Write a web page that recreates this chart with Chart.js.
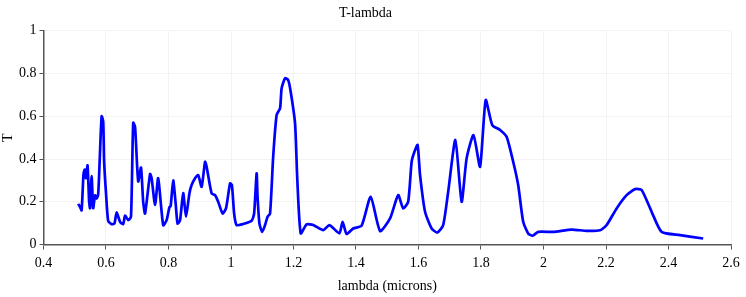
<!DOCTYPE html>
<html>
<head>
<meta charset="utf-8">
<script src="https://cdn.jsdelivr.net/npm/chart.js@4/dist/chart.umd.min.js"></script>
<style>
html,body{margin:0;padding:0;background:#fff;}
#wrap{width:746px;height:297px;}
</style>
</head>
<body>
<div id="wrap"><canvas id="c" width="746" height="297"></canvas></div>
<script>
const lambda = [0.511,0.517,0.522,0.528,0.532,0.536,0.541,0.546,0.549,0.554,0.559,0.565,0.570,0.575,0.580,0.586,0.591,0.594,0.600,0.607,0.618,0.627,0.634,0.645,0.655,0.661,0.671,0.680,0.687,0.693,0.703,0.712,0.719,0.725,0.741,0.746,0.757,0.767,0.783,0.794,0.803,0.807,0.815,0.823,0.829,0.837,0.847,0.856,0.867,0.874,0.885,0.895,0.906,0.917,0.922,0.938,0.949,0.959,0.973,0.984,0.997,1.003,1.010,1.018,1.039,1.066,1.074,1.082,1.085,1.091,1.100,1.109,1.117,1.125,1.135,1.146,1.157,1.162,1.173,1.183,1.191,1.205,1.212,1.223,1.242,1.263,1.295,1.315,1.347,1.357,1.370,1.391,1.418,1.447,1.477,1.509,1.535,1.551,1.567,1.578,1.587,1.597,1.605,1.621,1.642,1.660,1.679,1.695,1.718,1.738,1.754,1.776,1.797,1.815,1.836,1.861,1.882,1.903,1.919,1.935,1.951,1.965,1.983,2.031,2.090,2.138,2.181,2.202,2.234,2.266,2.293,2.314,2.346,2.378,2.437,2.511];
const T = [0.19,0.175,0.16,0.33,0.35,0.31,0.37,0.2,0.17,0.32,0.17,0.23,0.215,0.235,0.4,0.6,0.575,0.39,0.24,0.11,0.095,0.098,0.15,0.106,0.095,0.135,0.114,0.13,0.57,0.55,0.295,0.36,0.2,0.145,0.33,0.31,0.185,0.31,0.09,0.114,0.175,0.18,0.3,0.19,0.098,0.114,0.24,0.13,0.24,0.278,0.31,0.325,0.27,0.387,0.364,0.239,0.231,0.2,0.145,0.169,0.286,0.278,0.145,0.091,0.096,0.111,0.145,0.333,0.223,0.098,0.059,0.091,0.13,0.145,0.411,0.606,0.637,0.731,0.778,0.77,0.715,0.567,0.309,0.052,0.094,0.091,0.067,0.091,0.052,0.106,0.049,0.075,0.088,0.223,0.063,0.122,0.231,0.169,0.2,0.387,0.434,0.466,0.325,0.153,0.075,0.056,0.091,0.247,0.489,0.2,0.403,0.512,0.364,0.676,0.559,0.536,0.504,0.387,0.278,0.106,0.052,0.041,0.059,0.059,0.07,0.064,0.067,0.091,0.169,0.231,0.259,0.255,0.153,0.059,0.044,0.028];
const xTickLabels = ['0.4','0.6','0.8','1','1.2','1.4','1.6','1.8','2','2.2','2.4','2.6'];
const yTickLabels = ['0','0.2','0.4','0.6','0.8','1'];

const points = lambda.map((v, i) => ({x: v, y: T[i]}));
const serif = '"Liberation Serif", "Times New Roman", serif';

new Chart(document.getElementById('c'), {
  type: 'line',
  data: {
    datasets: [{
      label: 'T',
      data: points,
      borderColor: '#0000ff',
      backgroundColor: '#0000ff',
      borderWidth: 2.7,
      pointRadius: 0,
      tension: 0.2,
      fill: false
    }]
  },
  options: {
    responsive: false,
    animation: false,
    layout: {padding: {left: 0, right: 15, top: 0, bottom: 0}},
    plugins: {
      legend: {display: false},
      tooltip: {enabled: false},
      title: {
        display: true,
        text: 'T-lambda',
        color: '#000',
        font: {family: serif, size: 14, weight: 'normal'},
        padding: {top: 5, bottom: 9}
      }
    },
    scales: {
      x: {
        type: 'linear',
        min: 0.4, max: 2.6,
        afterFit: s => { s.height = 52.5; },
        ticks: {
          stepSize: 0.2,
          color: '#000',
          font: {family: serif, size: 14},
          padding: 5,
          maxRotation: 0,
          autoSkip: false,
          callback: (v, i) => xTickLabels[i]
        },
        grid: {color: '#f3f3f3', tickColor: '#555', tickLength: 5, drawTicks: true},
        border: {color: '#555', width: 1.5},
        title: {
          display: true,
          text: 'lambda (microns)',
          color: '#000',
          font: {family: serif, size: 14},
          padding: {top: 0, bottom: 2}
        }
      },
      y: {
        type: 'linear',
        min: 0, max: 1,
        afterFit: s => { s.width = 43.5; },
        ticks: {
          stepSize: 0.2,
          color: '#000',
          font: {family: serif, size: 14},
          padding: 3,
          callback: (v, i) => yTickLabels[i]
        },
        grid: {color: '#f3f3f3', tickColor: '#555', tickLength: 4},
        border: {color: '#555', width: 1.5},
        title: {
          display: true,
          text: 'T',
          color: '#000',
          font: {family: serif, size: 14},
          padding: {top: 0, bottom: 0}
        }
      }
    }
  }
});
</script>
</body>
</html>
